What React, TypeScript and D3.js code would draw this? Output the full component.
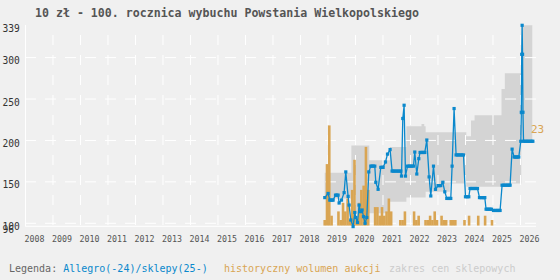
import React from "react";
import * as d3 from "d3";

const W = 560;
const H = 280;

const title = "10 zł - 100. rocznica wybuchu Powstania Wielkopolskiego";
const yearTicks = d3.range(2008, 2027);
const yTicks = [100, 150, 200, 250, 300];
const yExtremes = [96, 339];
const volMaxLabel = 23;

// price series: [decimal year, zł]
const price: [number, number][] = [
  [2018.884, 131], [2019.004, 136],
  [2019.065, 128], [2019.11, 128], [2019.15, 128], [2019.186, 128],
  [2019.273, 134], [2019.32, 134], [2019.367, 134],
  [2019.404, 124.5], [2019.491, 128], [2019.586, 137], [2019.647, 162],
  [2019.731, 132.5], [2019.767, 122], [2019.829, 104], [2019.913, 96],
  [2019.975, 113], [2020.011, 107], [2020.073, 101], [2020.131, 122],
  [2020.182, 114], [2020.24, 116], [2020.291, 108], [2020.349, 100],
  [2020.411, 107], [2020.484, 162],
  [2020.556, 169], [2020.6, 169], [2020.65, 169], [2020.702, 169],
  [2020.738, 149.5], [2020.822, 141],
  [2020.92, 167.5], [2020.96, 167.5], [2021.004, 167.5],
  [2021.091, 174], [2021.164, 183.5], [2021.258, 189],
  [2021.331, 163], [2021.38, 163], [2021.43, 163], [2021.49, 163], [2021.54, 163], [2021.6, 163], [2021.647, 163],
  [2021.673, 157], [2021.72, 226.5], [2021.768, 242.5], [2021.818, 157],
  [2021.891, 169], [2021.95, 169], [2022.0, 169], [2022.05, 169], [2022.109, 169],
  [2022.156, 186], [2022.229, 159.5], [2022.302, 178],
  [2022.349, 185.5], [2022.39, 185.5], [2022.44, 185.5], [2022.48, 185.5], [2022.52, 185.5],
  [2022.593, 200.5], [2022.677, 156], [2022.738, 133], [2022.836, 169], [2022.909, 141],
  [2023.004, 145.5], [2023.05, 145.5], [2023.102, 145.5],
  [2023.175, 149.5], [2023.247, 138],
  [2023.32, 130], [2023.37, 130], [2023.42, 130], [2023.465, 130],
  [2023.513, 169], [2023.585, 238.5],
  [2023.658, 182.5], [2023.71, 182.5], [2023.76, 182.5], [2023.82, 182.5], [2023.87, 182.5], [2023.927, 182.5],
  [2024.0, 132], [2024.06, 132], [2024.12, 132],
  [2024.167, 142], [2024.22, 142], [2024.27, 142], [2024.33, 142], [2024.38, 142], [2024.436, 142],
  [2024.509, 131], [2024.56, 131], [2024.61, 131], [2024.66, 131], [2024.702, 131],
  [2024.749, 117], [2024.8, 117], [2024.85, 117], [2024.9, 117], [2024.945, 117],
  [2025.018, 115.5], [2025.07, 115.5], [2025.12, 115.5], [2025.17, 115.5], [2025.22, 115.5], [2025.258, 115.5],
  [2025.331, 146], [2025.38, 146], [2025.43, 146], [2025.48, 146], [2025.53, 146], [2025.58, 146], [2025.622, 146],
  [2025.695, 189.5],
  [2025.767, 180], [2025.81, 180], [2025.85, 180], [2025.9, 180], [2025.938, 180],
  [2026.011, 199], [2026.03, 234], [2026.045, 304], [2026.06, 339], [2026.075, 304], [2026.09, 234],
  [2026.11, 199], [2026.16, 199], [2026.21, 199], [2026.26, 199], [2026.31, 199], [2026.36, 199], [2026.41, 199], [2026.45, 199],
];

// auction volume per month: month index since Jan 2008, count
const volMonth = [130, 131, 132, 133, 136, 137, 138, 139, 140, 141, 142, 143, 144, 145, 146, 147, 148, 149,
  152, 153, 154, 155, 156, 157, 158, 159, 163, 164, 165, 169, 170, 171, 174, 175, 176, 177, 178, 179,
  181, 182, 183, 185, 186, 187, 191, 193, 197, 200, 203];
const volCount = [1, 14, 23, 2, 3, 1, 5, 3, 6, 1, 8, 15, 1, 5, 8, 9, 18, 8,
  4, 4, 2, 4, 2, 3, 6, 3, 1, 1, 3, 3, 1, 2, 1, 1, 2, 1, 3, 1,
  2, 1, 1, 1, 1, 1, 1, 2, 2, 2, 1];

// shop price range (step segments)
const bandT = [2018.88, 2019.85, 2020.5, 2021.25, 2021.85, 2022.4, 2022.5, 2022.55, 2023.43, 2024.03, 2024.2, 2024.33, 2025.31, 2025.43, 2026.03, 2026.43];
const bandLow = [130, 112, 112, 126, 131, 131, 131, 138, 148, 144, 144, 144, 148, 148, 199, 199];
const bandHigh = [161, 194, 176, 192, 217, 220, 217, 210, 210, 205, 224, 230.5, 262, 281, 339, 339];

const BG = "#f0f0f0";
const BLUE = "#0a88cc";
const ORANGE = "#d9a553";
const BAND = "#d4d4d4";
const MONO = "'DejaVu Sans Mono', monospace";

export default function App() {
  const x = d3.scaleLinear().domain([2008, 2026.564]).range([25.5, 536]);
  const y = d3.scaleLinear().domain([96, 339]).range([226.6, 25.3]);
  const vy = d3.scaleLinear().domain([0, volMaxLabel]).range([224.3, 125.4]);
  const barBottom = 225.7;

  const line = d3.line<[number, number]>().x((d) => x(d[0])).y((d) => y(d[1]));
  const bandData = bandT.map((t, i) => ({ t, lo: bandLow[i], hi: bandHigh[i] }));
  const area = d3
    .area<{ t: number; lo: number; hi: number }>()
    .x((d) => x(d.t))
    .y0((d) => y(d.lo))
    .y1((d) => y(d.hi))
    .curve(d3.curveStepAfter);

  const monthW = x(2008 + 1 / 12) - x(2008);

  return (
    <svg width={W} height={H} style={{ position: "absolute", left: 0, top: 0, display: "block" }}>
      <rect x={0} y={0} width={W} height={H} fill={BG} />
      <text x={35} y={17} fontFamily={MONO} fontSize={11.6} fontWeight="bold" fill="#555">{title}</text>

      <path d={area(bandData) || ""} fill={BAND} />

      {/* grid */}
      {yearTicks.slice(1).map((yr) => (
        <line key={yr} x1={x(yr)} x2={x(yr)} y1={225} y2={25} stroke="#fff" strokeWidth={1} strokeDasharray="10,10" />
      ))}
      {yTicks.map((v) => (
        <line key={v} x1={25} x2={536} y1={y(v)} y2={y(v)} stroke="#fff" strokeWidth={1} strokeDasharray="11,9" />
      ))}
      <line x1={x(2008)} x2={x(2008)} y1={25} y2={y(96)} stroke="#fff" strokeWidth={1} />

      {volMonth.map((k, i) => (
        <rect key={k} x={x(2008 + k / 12)} width={monthW + 0.3} y={vy(volCount[i])} height={barBottom - vy(volCount[i])} fill={ORANGE} />
      ))}
      <line x1={x(2008)} x2={536} y1={226.3} y2={226.3} stroke="#fff" strokeWidth={1} />

      <path d={line(price) || ""} fill="none" stroke={BLUE} strokeWidth={1.3} />
      {price.map((d, i) => (
        <rect key={i} x={x(d[0]) - 1.6} y={y(d[1]) - 1.6} width={3.2} height={3.2} fill={BLUE} />
      ))}

      {[...yTicks, ...yExtremes].map((v) => (
        <text key={v} x={2.5} y={y(v) + 6.6} fontFamily={MONO} fontSize={9.6} fill="#333">{v}</text>
      ))}
      {yearTicks.map((yr) => (
        <text key={yr} x={x(yr) - 1} y={241.5} fontFamily={MONO} fontSize={8.3} fill="#555">{yr}</text>
      ))}

      <text x={531} y={132.5} fontFamily={MONO} fontSize={11} fill={ORANGE}>{volMaxLabel}</text>

      <text x={9} y={271.5} fontFamily={MONO} fontSize={10} fill="#666">Legenda: <tspan fill={BLUE}>Allegro(-24)/sklepy(25-)</tspan></text>
      <text x={224} y={271.5} fontFamily={MONO} fontSize={10} fill={ORANGE}>historyczny wolumen aukcji</text>
      <text x={389} y={271.5} fontFamily={MONO} fontSize={10} fill="#ccc">zakres cen sklepowych</text>
    </svg>
  );
}
